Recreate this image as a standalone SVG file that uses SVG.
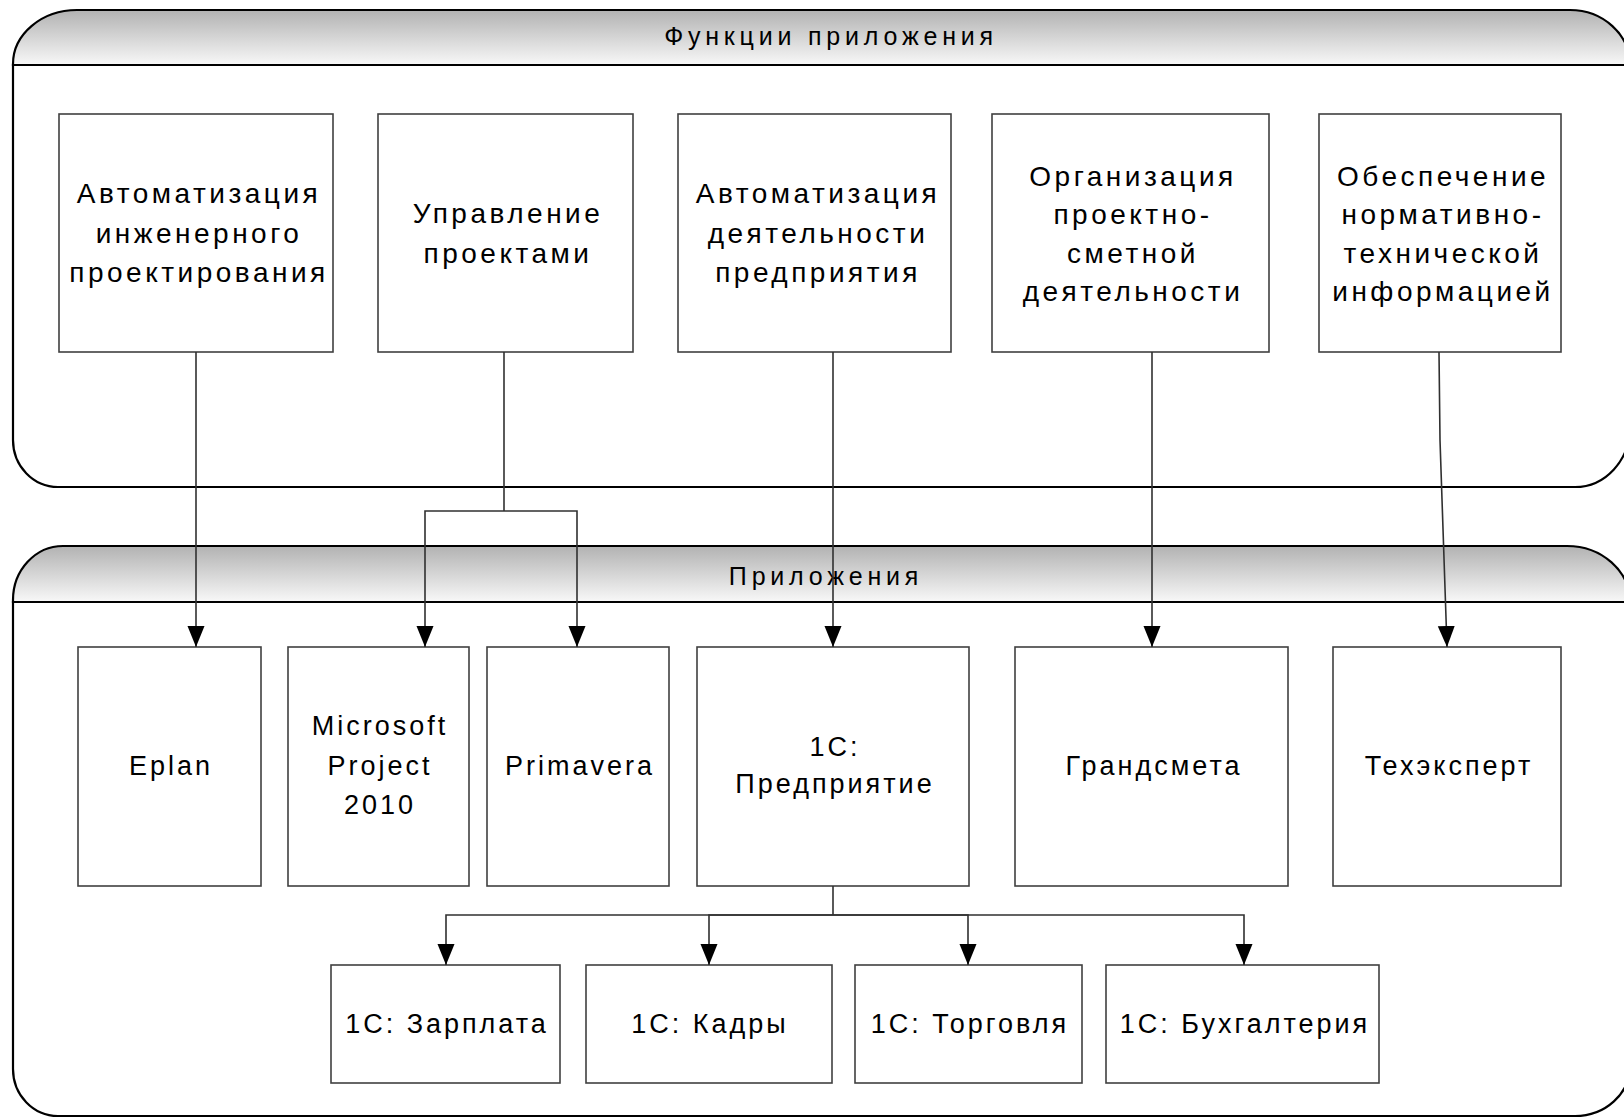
<svg xmlns="http://www.w3.org/2000/svg" width="1624" height="1120" viewBox="0 0 1624 1120">
<style>
.cont{fill:#ffffff;stroke:#000;stroke-width:2.2}
.hdr{fill:url(#hg);stroke:#000;stroke-width:2.2}
.box{fill:#ffffff;stroke:#404040;stroke-width:1.6}
.t{font-family:"Liberation Sans",Arial,sans-serif;font-size:27px;fill:#000;text-anchor:middle;letter-spacing:3px}
.tf{font-size:28px;letter-spacing:3.5px}
.ttl{font-family:"Liberation Sans",Arial,sans-serif;font-size:25px;fill:#000;text-anchor:middle;letter-spacing:4.8px}
.con{fill:none;stroke:#303030;stroke-width:1.6}
</style>
<defs>
<linearGradient id="hg" x1="0" y1="0" x2="0" y2="1">
<stop offset="0" stop-color="#b2b2b2"/>
<stop offset="1" stop-color="#f8f8f8"/>
</linearGradient>
<marker id="ah" markerUnits="userSpaceOnUse" markerWidth="22" markerHeight="18" refX="21" refY="8.5" orient="auto">
<path d="M0,0 L21,8.5 L0,17 z" fill="#000"/>
</marker>
</defs>

<g id="container-functions">
<path class="cont" d="M13,65 L13,440 A45,47 0 0 0 58,487 L1575,487 A55,60 0 0 0 1630,427 L1630,65 Z"/>
<path class="hdr" d="M13,65 L13,64 A64,54 0 0 1 77,10 L1570,10 A60,55 0 0 1 1630,65 Z"/>
<text class="ttl" x="831" y="45">Функции приложения</text>
</g>

<g id="container-apps">
<path class="cont" d="M13,602 L13,1069 A45,47 0 0 0 58,1116 L1575,1116 A55,50 0 0 0 1630,1066 L1630,602 Z"/>
<path class="hdr" d="M13,602 L13,600 A50,54 0 0 1 63,546 L1567,546 A63,56 0 0 1 1630,602 Z"/>
<text class="ttl" x="826" y="585">Приложения</text>
</g>

<g id="f1">
<rect class="box" x="59" y="114" width="274" height="238"/>
<text class="t tf" x="199" y="203">Автоматизация</text>
<text class="t tf" x="199" y="243">инженерного</text>
<text class="t tf" x="199" y="282">проектирования</text>
</g>
<g id="f2">
<rect class="box" x="378" y="114" width="255" height="238"/>
<text class="t tf" x="508" y="223">Управление</text>
<text class="t tf" x="508" y="263">проектами</text>
</g>
<g id="f3">
<rect class="box" x="678" y="114" width="273" height="238"/>
<text class="t tf" x="818" y="203">Автоматизация</text>
<text class="t tf" x="818" y="243">деятельности</text>
<text class="t tf" x="818" y="282">предприятия</text>
</g>
<g id="f4">
<rect class="box" x="992" y="114" width="277" height="238"/>
<text class="t tf" x="1133" y="186">Организация</text>
<text class="t tf" x="1133" y="224">проектно-</text>
<text class="t tf" x="1133" y="263">сметной</text>
<text class="t tf" x="1133" y="301">деятельности</text>
</g>
<g id="f5">
<rect class="box" x="1319" y="114" width="242" height="238"/>
<text class="t tf" x="1443" y="186">Обеспечение</text>
<text class="t tf" x="1443" y="224">нормативно-</text>
<text class="t tf" x="1443" y="263">технической</text>
<text class="t tf" x="1443" y="301">информацией</text>
</g>

<g id="a-eplan">
<rect class="box" x="78" y="647" width="183" height="239"/>
<text class="t" x="171" y="775">Eplan</text>
</g>
<g id="a-msproject">
<rect class="box" x="288" y="647" width="181" height="239"/>
<text class="t" x="380" y="735">Microsoft</text>
<text class="t" x="380" y="775">Project</text>
<text class="t" x="380" y="814">2010</text>
</g>
<g id="a-primavera">
<rect class="box" x="487" y="647" width="182" height="239"/>
<text class="t" x="580" y="775">Primavera</text>
</g>
<g id="a-1c">
<rect class="box" x="697" y="647" width="272" height="239"/>
<text class="t" x="835" y="756">1С:</text>
<text class="t" x="835" y="793">Предприятие</text>
</g>
<g id="a-grandsmeta">
<rect class="box" x="1015" y="647" width="273" height="239"/>
<text class="t" x="1154" y="775">Грандсмета</text>
</g>
<g id="a-techexpert">
<rect class="box" x="1333" y="647" width="228" height="239"/>
<text class="t" x="1449" y="775">Техэксперт</text>
</g>

<g id="s-zarplata">
<rect class="box" x="331" y="965" width="229" height="118"/>
<text class="t" x="447" y="1033">1С: Зарплата</text>
</g>
<g id="s-kadry">
<rect class="box" x="586" y="965" width="246" height="118"/>
<text class="t" x="710" y="1033">1С: Кадры</text>
</g>
<g id="s-torgovlya">
<rect class="box" x="855" y="965" width="227" height="118"/>
<text class="t" x="970" y="1033">1С: Торговля</text>
</g>
<g id="s-buh">
<rect class="box" x="1106" y="965" width="273" height="118"/>
<text class="t" x="1245" y="1033">1С: Бухгалтерия</text>
</g>

<g id="connectors">
<path class="con" d="M196,352 V647" marker-end="url(#ah)"/>
<path class="con" d="M504,352 V511"/>
<path class="con" d="M504,511 H425 V647" marker-end="url(#ah)"/>
<path class="con" d="M504,511 H577 V647" marker-end="url(#ah)"/>
<path class="con" d="M833,352 V647" marker-end="url(#ah)"/>
<path class="con" d="M1152,352 V647" marker-end="url(#ah)"/>
<path class="con" d="M1439,352 L1440,440 L1447,647" marker-end="url(#ah)"/>
<path class="con" d="M833,886 V915"/>
<path class="con" d="M833,915 H446 V965" marker-end="url(#ah)"/>
<path class="con" d="M833,915 H709 V965" marker-end="url(#ah)"/>
<path class="con" d="M833,915 H968 V965" marker-end="url(#ah)"/>
<path class="con" d="M833,915 H1244 V965" marker-end="url(#ah)"/>
</g>
</svg>
